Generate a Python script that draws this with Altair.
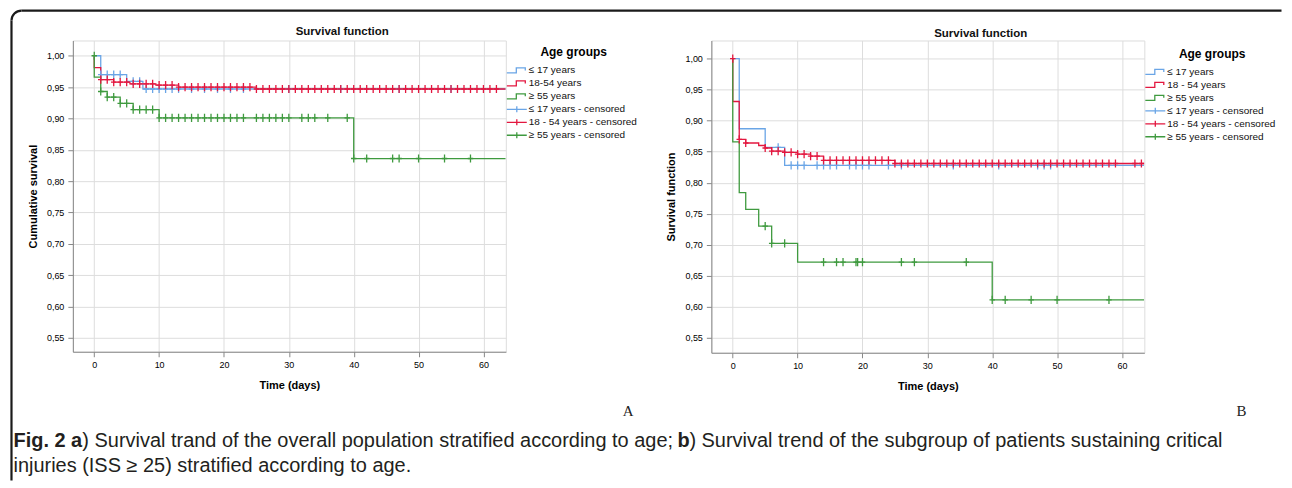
import altair as alt
import pandas as pd

# ---------------- data ----------------
XTICKS = [0, 10, 20, 30, 40, 50, 60]
YTICKS = [0.55, 0.60, 0.65, 0.70, 0.75, 0.80, 0.85, 0.90, 0.95, 1.00]

# Panel A: overall population
A_names = ["≤ 17 years", "18-54 years", "≥ 55 years",
           "≤ 17 years - censored", "18 - 54 years - censored", "≥ 55 years - censored"]
A_blue_t = [0, 1, 5, 7.5, 63.4]
A_blue_s = [1.0, 0.970, 0.959, 0.947, 0.947]
A_red_t = [0, 0, 1, 3, 5.5, 9.5, 13, 25, 63.4]
A_red_s = [1.0, 0.981, 0.962, 0.958, 0.955, 0.953, 0.950, 0.947, 0.947]
A_green_t = [0, 0, 1, 2, 4, 6, 10, 40, 63.4]
A_green_s = [1.0, 0.966, 0.943, 0.934, 0.924, 0.914, 0.901, 0.836, 0.836]
A_blue_cens = [1, 2, 3, 4, 6, 7, 8, 9, 10, 11, 12, 13, 15, 17, 19, 21, 23, 30, 38, 47, 55]
A_red_cens = [1, 2, 3, 4, 5, 6, 7, 8, 9, 10, 11, 12, 13, 14, 15, 16, 17, 18, 19, 20,
              21, 22, 23, 24, 25, 26, 27, 28, 29, 30, 31, 32, 33, 34, 35, 36, 37, 38,
              39, 40, 41, 42, 43, 44, 45, 46, 47, 48, 49, 50, 51, 52, 53, 54, 55, 56,
              57, 58, 59, 60, 61, 62]
A_green_cens = [0, 1, 2, 3, 4, 5, 6, 7, 8, 9, 10, 11, 12, 13, 14, 15, 16, 17, 18, 19,
                20, 21, 22, 23, 25, 26, 27, 28, 29, 30, 32, 33, 34, 36, 39,
                40, 42, 46, 47, 50, 54, 58]

# Panel B: critical injuries (ISS >= 25)
B_names = ["≤ 17 years", "18 - 54 years", "≥ 55 years",
           "≤ 17 years - censored", "18 - 54 years - censored", "≥ 55 years - censored"]
B_blue_t = [0, 1, 5, 8, 63.4]
B_blue_s = [1.0, 0.887, 0.857, 0.828, 0.828]
B_red_t = [0, 0, 1, 2, 4, 5, 6, 8, 10, 12, 14, 25, 63.4]
B_red_s = [1.0, 0.931, 0.870, 0.864, 0.860, 0.856, 0.851, 0.849, 0.846, 0.843, 0.836, 0.831, 0.831]
B_green_t = [0, 0, 1, 2, 4, 6, 10, 40, 63.4]
B_green_s = [1.0, 0.866, 0.784, 0.757, 0.730, 0.702, 0.672, 0.611, 0.611]
B_blue_cens = [7, 9, 10, 11, 13, 14, 15, 16, 18, 19, 20, 21, 24, 26, 34, 41, 47, 48, 49]
B_red_cens = [0, 1, 2, 5, 6, 7, 8, 9, 10, 11, 12, 13, 14, 15, 16, 17, 18, 19, 20, 21,
              22, 23, 24, 25, 26, 27, 28, 29, 30, 31, 32, 33, 34, 35, 36, 37, 38, 39,
              40, 41, 42, 43, 44, 45, 46, 47, 48, 49, 50, 51, 52, 53, 54, 55, 56, 57,
              58, 59, 62, 63]
B_green_cens = [5, 6, 8, 14, 16, 17, 19, 19.25, 20, 26, 28, 36, 40, 42, 46, 50, 58]

PANEL_TITLE = "Survival function"
CAPTION_1 = "Fig. 2 a"
CAPTION_2 = ") Survival trand of the overall population stratified according to age; "
CAPTION_3 = "b"
CAPTION_4 = ") Survival trend of the subgroup of patients sustaining critical"
CAPTION_5 = "injuries (ISS ≥ 25) stratified according to age."

# ---------------- styling ----------------
BLUE = "#6aa5e6"
RED = "#e3173f"
GREEN = "#3f9a3f"
FONT = "Liberation Sans"
CAPFONT = "Liberation Sans"
CAPSIZE = 20
CROSS = "M-1,0L1,0M0,-1.5L0,1.5"
LEG_STEP = "M-2,0.5L-0.1,0.5L-0.1,-0.5L1.7,-0.5L1.7,0"
LEG_CROSS = "M-2,0L2,0M0,-0.6L0,0.6"
W = 434


def level(ts, ss, t):
    if t == 0:
        return ss[0]
    v = ss[0]
    for ti, si in zip(ts, ss):
        if ti <= t:
            v = si
    return v


def build(names, curves, cens):
    rows, crow = [], []
    for name, (ts, ss) in zip(names[:3], curves):
        for i, (t, s) in enumerate(zip(ts, ss)):
            rows.append({"group": name, "t": t, "s": s, "idx": i})
    for name, (ts, ss), cts in zip(names[3:], curves, cens):
        for t in cts:
            crow.append({"group": name, "t": t, "s": level(ts, ss, t)})
    return pd.DataFrame(rows), pd.DataFrame(crow)


def panel(names, curves, cens, ytitle, ydom, height, legy, title_y):
    lines_df, cens_df = build(names, curves, cens)
    cscale = alt.Scale(domain=names, range=[BLUE, RED, GREEN, BLUE, RED, GREEN])
    sscale = alt.Scale(domain=names, range=[LEG_STEP] * 3 + [LEG_CROSS] * 3)
    x = alt.X("t:Q", scale=alt.Scale(domain=[-3.3, 63.45], nice=False, zero=False),
              axis=alt.Axis(values=XTICKS, title="Time (days)", labelFontSize=9,
                            labelPadding=4, titlePadding=10))
    y = alt.Y("s:Q", scale=alt.Scale(domain=ydom, nice=False, zero=False),
              axis=alt.Axis(values=YTICKS, title=ytitle, labelFontSize=9,
                            labelPadding=4, titlePadding=8,
                            labelExpr="replace(format(datum.value, '.2f'), '.', ',')"))
    leg = alt.Legend(title="Age groups", orient="none", legendX=439, legendY=legy,
                     titleFontSize=12, titleFontWeight="bold", titleColor="#000",
                     titleAnchor="middle", titlePadding=5, labelFontSize=10,
                     labelColor="#111", labelFont=FONT, titleFont=FONT,
                     symbolSize=100, symbolStrokeWidth=1.3, labelOffset=6,
                     symbolFillColor="transparent", rowPadding=1, padding=0)
    color = alt.Color("group:N", scale=cscale, legend=leg)
    legend_layer = alt.Chart(cens_df).transform_filter("false").mark_point(
        filled=False, opacity=1, strokeWidth=1.3).encode(
        x=x, y=y, color=color,
        shape=alt.Shape("group:N", scale=sscale, legend=leg))
    lines = alt.Chart(lines_df).mark_line(interpolate="step-after", strokeWidth=1.3).encode(
        x=x, y=y, color=color, order=alt.Order("idx:Q"))
    pts = alt.Chart(cens_df).mark_point(shape=CROSS, size=30, filled=False,
                                        strokeWidth=1.3, opacity=1).encode(
        x=x, y=y, color=color)
    one = alt.Chart(pd.DataFrame({"k": [0]}))
    title = one.mark_text(font=FONT, fontSize=11.5, fontWeight="bold", color="#111",
                          baseline="middle").encode(
        x=alt.value(W / 2 + 53), y=alt.value(title_y), text=alt.value(PANEL_TITLE))
    return [legend_layer, lines, pts, title], height


def deco():
    base = alt.Chart(pd.DataFrame({"k": [0]}))
    cap = dict(font=CAPFONT, fontSize=CAPSIZE, align="left", baseline="middle",
               color="#231f20")
    layers = [
        base.mark_rule(color="#1a1a1a", strokeWidth=2.2).encode(
            x=alt.value(-61.5), y=alt.value(-20), y2=alt.value(441)),
        base.mark_rule(color="#1a1a1a", strokeWidth=2.2).encode(
            x=alt.value(-51.5), x2=alt.value(1211.5), y=alt.value(-30)),
        base.mark_arc(innerRadius=8.9, outerRadius=11.1, theta=4.7124, theta2=6.2832,
                      color="#1a1a1a").encode(x=alt.value(-51.5), y=alt.value(-20)),
        base.mark_text(font="Liberation Serif", fontSize=15, color="#222").encode(
            x=alt.value(556.5), y=alt.value(371), text=alt.value("A")),
        base.mark_text(font="Liberation Serif", fontSize=15, color="#222").encode(
            x=alt.value(1171.5), y=alt.value(371), text=alt.value("B")),
        base.mark_text(fontWeight="bold", **cap).encode(
            x=alt.value(-59.5), y=alt.value(401), text=alt.value(CAPTION_1)),
        base.mark_text(**cap).encode(
            x=alt.value(9.5), y=alt.value(401), text=alt.value(CAPTION_2)),
        base.mark_text(fontWeight="bold", **cap).encode(
            x=alt.value(606), y=alt.value(401), text=alt.value(CAPTION_3)),
        base.mark_text(**cap).encode(
            x=alt.value(618), y=alt.value(401), text=alt.value(CAPTION_4)),
        base.mark_text(**cap).encode(
            x=alt.value(-59.5), y=alt.value(427), text=alt.value(CAPTION_5)),
    ]
    return layers


A_layers, A_h = panel(
    A_names,
    [(A_blue_t, A_blue_s), (A_red_t, A_red_s), (A_green_t, A_green_s)],
    [A_blue_cens, A_red_cens, A_green_cens],
    "Cumulative survival", [0.5276, 1.0244], 312, 7, -8.3)
B_layers, B_h = panel(
    B_names,
    [(B_blue_t, B_blue_s), (B_red_t, B_red_s), (B_green_t, B_green_s)],
    [B_blue_cens, B_red_cens, B_green_cens],
    "Survival function", [0.5257, 1.0294], 313, 8.5, -6.3)

chartA = alt.layer(*A_layers, *deco()).properties(width=W, height=A_h)
chartB = alt.layer(*B_layers).properties(width=W, height=B_h)

chart = alt.hconcat(chartA, chartB, spacing=206, bounds="flush").resolve_scale(
    color="independent", shape="independent").resolve_legend(
    color="independent", shape="independent").properties(
    padding={"left": 1, "top": 0, "right": 0, "bottom": 0}
).configure_view(strokeWidth=0).configure_axis(
    grid=True, gridColor="#d2d2d2", gridWidth=1.5, ticks=False, tickSize=0,
    domainColor="#8a8a8a", domainWidth=1.5, labelColor="#333", labelFont=FONT,
    titleFont=FONT, titleFontSize=11.5, titleFontWeight="bold", titleColor="#111"
).configure(background="white")

chart.save("out.html", embed_options={"renderer": "svg", "actions": False})
